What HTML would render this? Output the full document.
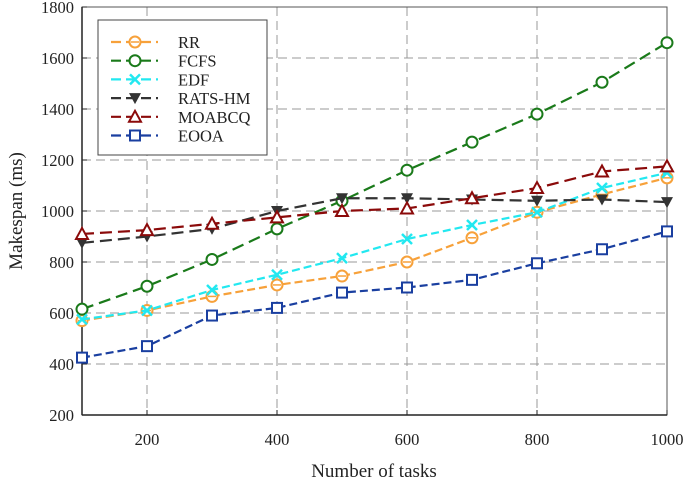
<!DOCTYPE html>
<html><head><meta charset="utf-8"><style>
body{margin:0;background:#fff}
svg{display:block;font-family:"Liberation Serif",serif}
</style></head><body>
<svg id="chart" width="685" height="483"></svg>
<script>
const categories=[100,200,300,400,500,600,700,800,900,1000];
const rrValues=[570,610,665,710,745,800,895,995,1065,1130];
const fcfsValues=[615,705,810,930,1040,1160,1270,1380,1505,1660];
const edfValues=[575,610,690,750,815,890,945,995,1090,1150];
const ratsValues=[875,900,930,1000,1050,1050,1045,1040,1045,1035];
const moabcqValues=[910,925,950,975,1000,1010,1050,1090,1155,1175];
const eooaValues=[425,470,590,620,680,700,730,795,850,920];
const xTicks=[200,400,600,800,1000];
const yTicks=[200,400,600,800,1000,1200,1400,1600,1800];
const seriesNames=["RR","FCFS","EDF","RATS-HM","MOABCQ","EOOA"];

const svg=document.getElementById('chart');
const NS='http://www.w3.org/2000/svg';
const L=82,R=667,T=7,B=415;
const xs=v=>L+(v-100)/900*(R-L);
const ys=v=>B-(v-200)/1600*(B-T);
function mk(tag,attrs,parent){const e=document.createElementNS(NS,tag);for(const k in attrs)e.setAttribute(k,attrs[k]);(parent||svg).appendChild(e);return e;}

const grid=mk('g',{});


xTicks.forEach(v=>{if(v<1000)mk('line',{x1:xs(v),x2:xs(v),y1:T,y2:B,stroke:'#999','stroke-dasharray':'9,5','stroke-width':1},grid);});
yTicks.forEach(v=>{if(v>200&&v<1800)mk('line',{x1:L,x2:R,y1:ys(v),y2:ys(v),stroke:'#999','stroke-dasharray':'9,5','stroke-width':1},grid);});

const axes=mk('g',{});


mk('rect',{x:L,y:T,width:R-L,height:B-T,fill:'none',stroke:'#555','stroke-width':1},axes);
mk('line',{x1:L,x2:L,y1:T,y2:B,stroke:'#222','stroke-width':1.5},axes);
mk('line',{x1:L,x2:R,y1:B,y2:B,stroke:'#222','stroke-width':1.5},axes);
xTicks.forEach(v=>{mk('line',{x1:xs(v),x2:xs(v),y1:B,y2:B-5,stroke:'#222'},axes);
 const t=mk('text',{x:xs(v),y:B+30,'text-anchor':'middle','font-size':16.5,fill:'#222'},axes);t.textContent=v;
 
 });
yTicks.forEach(v=>{mk('line',{x1:L,x2:L+5,y1:ys(v),y2:ys(v),stroke:'#222'},axes);
 const t=mk('text',{x:L-8,y:ys(v)+6,'text-anchor':'end','font-size':16.5,fill:'#222'},axes);t.textContent=v;
 
 });
const xt=mk('text',{x:374,y:477,'text-anchor':'middle','font-size':19,fill:'#222'});xt.textContent='Number of tasks';


const yt=mk('text',{x:0,y:0,'text-anchor':'middle','font-size':19,fill:'#222',transform:'translate(22,211) rotate(-90)'});yt.textContent='Makespan (ms)';



function marker(g,type,x,y,c){
 if(type==='circle'||type==='hex')mk('circle',{cx:x,cy:y,r:5.5,fill:'#fff',stroke:c,'stroke-width':2},g);
 if(type==='hex')mk('line',{x1:x-4,x2:x+4,y1:y,y2:y,stroke:c,'stroke-width':1.5},g);
 if(type==='x'){mk('line',{x1:x-5,x2:x+5,y1:y-5,y2:y+5,stroke:c,'stroke-width':2.5},g);mk('line',{x1:x-5,x2:x+5,y1:y+5,y2:y-5,stroke:c,'stroke-width':2.5},g);}
 if(type==='tri-down')mk('polygon',{points:`${x-6},${y-5} ${x+6},${y-5} ${x},${y+6}`,fill:c},g);
 if(type==='tri-up')mk('polygon',{points:`${x-6},${y+5} ${x+6},${y+5} ${x},${y-6}`,fill:'#fff',stroke:c,'stroke-width':2},g);
 if(type==='square')mk('rect',{x:x-5,y:y-5,width:10,height:10,fill:'#fff',stroke:c,'stroke-width':2},g);
}
const series=[
 {vals:rrValues,c:'#f7a13a',m:'hex',d:'8,4',key:'rr'},
 {vals:fcfsValues,c:'#1a7a1a',m:'circle',d:'12,6',key:'fcfs'},
 {vals:edfValues,c:'#22e8f0',m:'x',d:'8,4',key:'edf'},
 {vals:ratsValues,c:'#333',m:'tri-down',d:'12,6',key:'rats-hm'},
 {vals:moabcqValues,c:'#8b0a0a',m:'tri-up',d:'12,6',key:'moabcq'},
 {vals:eooaValues,c:'#1a3fa0',m:'square',d:'8,4',key:'eooa'}
];
series.forEach(s=>{
 const g=mk('g',{});
 
 
 const pts=s.vals.map((v,i)=>xs(categories[i])+','+ys(v)).join(' ');
 mk('polyline',{points:pts,fill:'none',stroke:s.c,'stroke-width':2.2,'stroke-dasharray':s.d},g);
 s.vals.forEach((v,i)=>marker(g,s.m,xs(categories[i]),ys(v),s.c));
});

const lg=mk('g',{});


mk('rect',{x:98,y:20,width:169,height:135,fill:'#fff',stroke:'#444','stroke-width':1},lg);
series.forEach((s,i)=>{
 const y=42+i*18.7;
 const e=mk('g',{},lg);
 
 
 mk('line',{x1:111,x2:158,y1:y,y2:y,stroke:s.c,'stroke-width':2.2,'stroke-dasharray':'10,5'},e);
 marker(e,s.m,135,y,s.c);
 const t=mk('text',{x:178,y:y+6,'font-size':16.5,fill:'#222'},e);t.textContent=seriesNames[i];
});
</script>
</body></html>
